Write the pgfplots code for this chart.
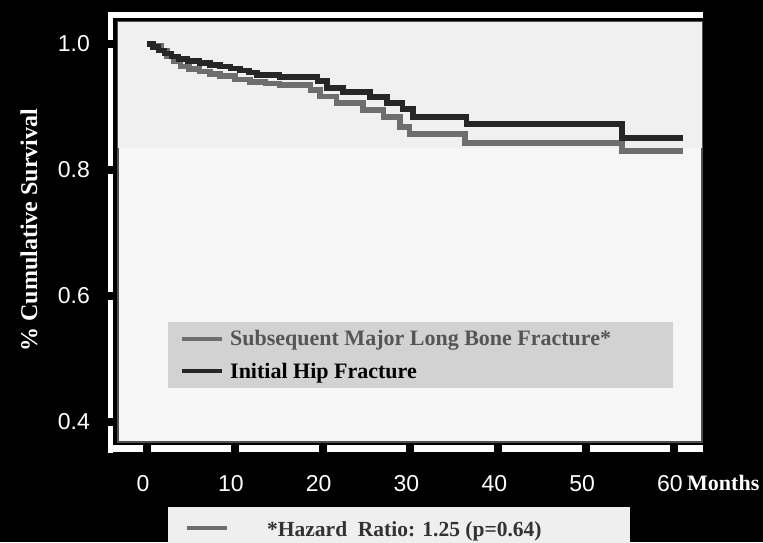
\documentclass[border=0pt]{standalone}
\usepackage{pgfplots}
\pgfplotsset{compat=1.18}
\usepackage{fontspec}
\setmainfont{Liberation Serif}
\setsansfont{Liberation Sans}
\definecolor{bgtop}{HTML}{F0F0F0}
\definecolor{bgbot}{HTML}{F6F6F6}
\definecolor{darkline}{HTML}{262626}
\definecolor{grayline}{HTML}{6E6E6E}
\definecolor{legfill}{HTML}{D2D2D2}
\definecolor{borderc}{HTML}{505050}
\definecolor{boxfill}{HTML}{EFEFEF}
\definecolor{legtext}{HTML}{555555}
\begin{document}
\begin{tikzpicture}[x=1pt,y=1pt]
\path[use as bounding box] (0,0) rectangle (763,542);
\fill[black] (0,0) rectangle (763,542);
\fill[white] (108,89) rectangle (113,530);
\fill[white] (108,524) rectangle (703,530);
\fill[white] (108,90) rectangle (703,97);
\begin{axis}[
  at={(118pt,100pt)}, anchor=south west,
  width=584pt, height=420pt, scale only axis,
  xmin=-3.3, xmax=63.19, ymin=0.3683, ymax=1.0349,
  axis background/.style={fill=bgbot},
  axis line style={draw=borderc, line width=2pt},
  xtick={0,10,...,60}, ytick={0.4,0.6,0.8,1.0},
  yticklabel style={/pgf/number format/fixed, /pgf/number format/fixed zerofill, /pgf/number format/precision=1},
  /pgf/number format/assume math mode=true,
  tick pos=left, tick align=outside, major tick length=14pt,
  major tick style={black, line width=8pt},
  ticklabel style={font=\sffamily\fontsize{23}{27}\selectfont, text=white},
  xticklabel style={anchor=north, inner sep=0pt, yshift=-19pt, xshift=-4pt},
  yticklabel style={anchor=east, inner sep=0pt, xshift=-14pt},
  clip=false,
  legend style={at={(axis description cs:0.0856,0.1286)}, anchor=south west,
    fill=legfill, draw=none, font=\bfseries\fontsize{22}{26}\selectfont,
    inner xsep=12pt, inner ysep=6pt, row sep=12pt},
  legend cell align=left,
  legend image code/.code={\draw[#1, line width=4pt] (0pt,0pt) -- (40pt,0pt);},
]
\fill[bgtop] (rel axis cs:0,0.70) rectangle (rel axis cs:1,1);
\addplot[const plot, grayline, line width=5.5pt] coordinates {
(0.9,0.997) (1.6,0.99) (2.3,0.98) (3.0,0.972) (3.8,0.964) (4.8,0.960) (6.0,0.956)
(7.2,0.952) (8.3,0.949) (10.0,0.944) (11.7,0.940) (13.5,0.937) (15.1,0.935)
(18.6,0.927) (19.7,0.917) (21.6,0.906) (24.6,0.895) (26.9,0.884) (28.8,0.868)
(29.9,0.857) (36.2,0.843) (54.1,0.830) (61.0,0.830)};
\addlegendentry{\makebox[433pt][l]{\hspace{4pt}\textcolor{legtext}{Subsequent Major Long Bone Fracture*}}}
\addplot[const plot, darkline, line width=5.5pt] coordinates {
(0,1.0) (0.7,0.995) (1.3,0.99) (2.0,0.985) (2.8,0.98) (3.6,0.976) (4.6,0.973)
(6.0,0.970) (7.2,0.967) (8.3,0.964) (9.5,0.961) (10.6,0.958) (11.6,0.955)
(12.5,0.951) (15.1,0.948) (19.4,0.941) (20.5,0.930) (22.3,0.924) (25.4,0.916)
(27.3,0.906) (29.1,0.897) (30.3,0.884) (36.4,0.873) (54.1,0.851) (61.0,0.851)};
\addlegendentry{\makebox[433pt][l]{\hspace{4pt}\textcolor{black}{Initial Hip Fracture}}}
\end{axis}
\node[rotate=90, text=white, font=\bfseries\fontsize{24}{28}\selectfont] at (29,312) {\% Cumulative Survival};
\node[anchor=base west, text=white, inner sep=0pt, font=\bfseries\fontsize{22}{26}\selectfont] at (687,52) {Months};
\fill[boxfill] (168,-5) rectangle (630,35);
\node[anchor=base west, inner sep=0pt, font=\bfseries\fontsize{21.5}{26}\selectfont] at (187,5.5)
  {\textcolor{grayline}{\rule[6.5pt]{40pt}{4pt}}\hspace{40pt}\textcolor{black!80}{*Hazard~~Ratio: 1.25 (p=0.64)}};
\end{tikzpicture}
\end{document}
